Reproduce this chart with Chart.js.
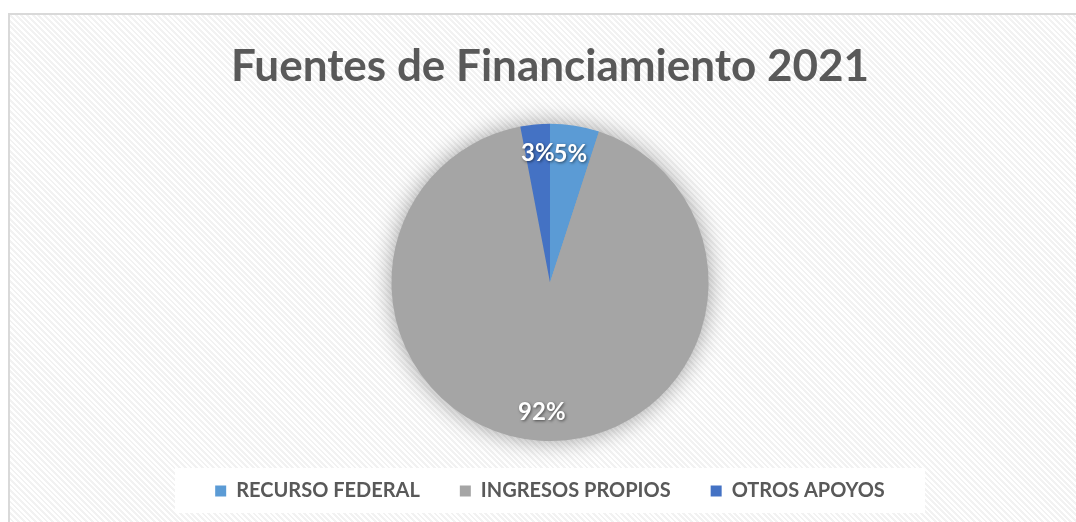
<!DOCTYPE html>
<html>
<head>
<meta charset="utf-8">
<script src="https://cdn.jsdelivr.net/npm/chart.js@4/dist/chart.umd.min.js"></script>
<style>
  html, body { margin: 0; padding: 0; width: 1076px; height: 522px; overflow: hidden; background: #fff; }
  #frame {
    position: absolute; left: 8px; top: 13px; width: 1200px; height: 700px;
    border-left: 2px solid #d9d9d9; border-top: 2px solid #d9d9d9;
    background: repeating-linear-gradient(45deg, #ffffff 0px, #ffffff 2px, #f2f2f2 2px, #f2f2f2 4px);
  }
  #wrap { position: absolute; left: 0; top: 0; width: 1100px; height: 522px; }
</style>
</head>
<body>
<div id="frame"></div>
<div id="wrap"><canvas id="finChart"></canvas></div>
<script>
// data
const categorias = ['RECURSO FEDERAL', 'INGRESOS PROPIOS', 'OTROS APOYOS'];
const porcentajes = [5, 92, 3];
const colores = ['#5b9bd5', '#a5a5a5', '#4472c4'];
const titulo = 'Fuentes de Financiamiento 2021';

// soft halo behind the pie
const pieShadow = {
  id: 'pieShadow',
  beforeDatasetsDraw(chart) {
    const arc = chart.getDatasetMeta(0).data[0];
    if (!arc) return;
    const { x, y, outerRadius } = arc.getProps(['x', 'y', 'outerRadius'], true);
    const ctx = chart.ctx;
    ctx.save();
    ctx.shadowColor = 'rgba(0,0,0,0.4)';
    ctx.shadowBlur = 24;
    ctx.fillStyle = '#a5a5a5';
    ctx.beginPath();
    ctx.arc(x, y, outerRadius - 1, 0, Math.PI * 2);
    ctx.fill();
    ctx.restore();
  }
};

// white box behind the legend
const legendBox = {
  id: 'legendBox',
  beforeDraw(chart) {
    const lg = chart.legend;
    if (!lg || !lg.legendHitBoxes.length) return;
    const hb = lg.legendHitBoxes[0];
    const cy = hb.top + hb.height / 2;
    const cx = (chart.chartArea.left + chart.chartArea.right) / 2;
    const ctx = chart.ctx;
    ctx.save();
    ctx.fillStyle = 'rgba(255,255,255,0.95)';
    ctx.fillRect(cx - 375, cy - 23, 750, 45);
    ctx.restore();
  }
};

// percentage labels inside the slices
const sliceLabels = {
  id: 'sliceLabels',
  afterDatasetsDraw(chart) {
    const ctx = chart.ctx;
    const meta = chart.getDatasetMeta(0);
    ctx.save();
    ctx.font = 'bold 24px Lato';
    ctx.fillStyle = '#ffffff';
    ctx.textAlign = 'center';
    ctx.textBaseline = 'middle';
    ctx.shadowColor = 'rgba(0,0,0,0.55)';
    ctx.shadowBlur = 3;
    ctx.shadowOffsetX = 1;
    ctx.shadowOffsetY = 1;
    meta.data.forEach((arc, i) => {
      const p = arc.getProps(['x', 'y', 'startAngle', 'endAngle', 'outerRadius'], true);
      const mid = (p.startAngle + p.endAngle) / 2;
      const r = p.outerRadius * 0.82;
      ctx.fillText(porcentajes[i] + '%', p.x + Math.cos(mid) * r, p.y + Math.sin(mid) * r);
    });
    ctx.restore();
  }
};

const ctx = document.getElementById('finChart').getContext('2d');
const chart = new Chart(ctx, {
  type: 'pie',
  data: {
    labels: categorias,
    datasets: [{
      data: porcentajes,
      backgroundColor: colores,
      borderWidth: 0
    }]
  },
  options: {
    responsive: true,
    maintainAspectRatio: false,
    animation: false,
    layout: { padding: { top: 0, bottom: 11 } },
    plugins: {
      title: {
        display: true,
        text: titulo,
        color: '#595959',
        font: { family: 'Lato', size: 44, weight: 'bold' },
        padding: { top: 40, bottom: 31 }
      },
      legend: {
        position: 'bottom',
        labels: {
          color: '#595959',
          font: { family: 'Lato', size: 20, weight: 'bold' },
          boxWidth: 11,
          boxHeight: 11,
          padding: 40
        }
      },
      tooltip: { enabled: false }
    }
  },
  plugins: [legendBox, pieShadow, sliceLabels]
});
</script>
</body>
</html>
